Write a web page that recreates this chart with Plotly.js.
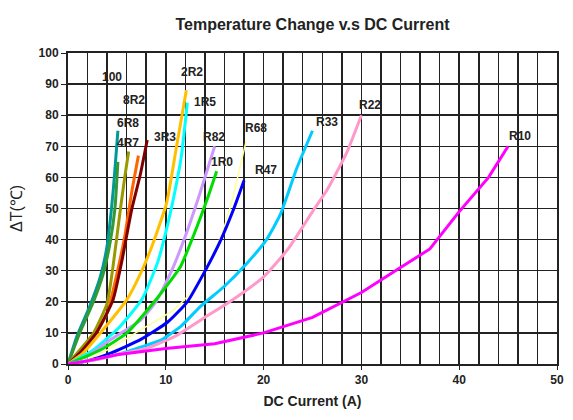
<!DOCTYPE html>
<html><head><meta charset="utf-8">
<script src="https://cdn.plot.ly/plotly-3.0.1.min.js"></script>
<style>html,body{margin:0;padding:0;background:#fff}#chart{width:573px;height:420px}</style>
</head><body><div id="chart"></div>
<script>
const names = ["100","8R2","6R8","4R7","3R3","2R2","1R5","R82","1R0","R68","R47","R33","R22","R10"];
const colors = ["#009999","#339933","#999900","#ff6600","#800000","#ffc000","#00ffff","#cc99ff","#00dd00","#ffff99","#0000ff","#00ccff","#ff99cc","#ff00ff"];

const x100 = [0,0.9,2.2,3.3,4,4.6,5.1];
const y100 = [0,8.8,18.4,28,38,55,75];
const x8R2 = [0,1.2,2.6,3.6,4.3,4.8,5.1];
const y8R2 = [0,10,20,29,39,50,65];
const x6R8 = [0,0.9,2.6,4,4.6,5.3,5.8,6.2];
const y6R8 = [0,3.4,9.9,19.5,31.3,48.4,60,68.3];
const x4R7 = [0,2.2,4,5,5.8,6.5,7.2];
const y4R7 = [0,6.6,16.3,29,41,55,67];
const x3R3 = [0,1.2,2.9,4.6,5.5,6.5,7.4,8.1];
const y3R3 = [0,3.5,10,20.6,33,49.5,61,72];
const x2R2 = [0,1.5,3.3,6,7.4,8.6,10.1,11.1,12.1];
const y2R2 = [0,3.4,9.9,20.6,29,38,52,70,88];
const x1R5 = [0,2.6,5.3,7.6,9.2,10.2,10.9,11.6,12.2];
const y1R5 = [0,4.5,12,21,33,45,55,67,84];
const xR82 = [0,2,4.3,7.4,9,10.6,12.1,13.5,15];
const yR82 = [0,2.5,7.7,14,20,30,42,55,70];
const x1R0 = [0,3.3,6,8.4,10.3,11.5,12.8,14.2,15.2];
const y1R0 = [0,4.5,9.9,18.4,26,31.3,41,52.7,62];
const xR68 = [0,2,4,7.4,10.8,12.5,13.8,15.5,16.6,18.2];
const yR68 = [0,1.5,4.5,10.9,17.4,22.7,29,40,50.6,71.5];
const xR47 = [0,2,4.3,7.5,10.2,12.2,14.2,15.5,16.9,18];
const yR47 = [0,1,3.4,8,13.5,20,31,39,49.5,59];
const xR33 = [0,3,5,7.5,9.5,11.5,13.5,16,18.3,20.3,21.7,23.4,25];
const yR33 = [0,1.5,3,5.5,7.7,12,18.4,25,32.4,40,48,63,75];
const xR22 = [0,3,5,8,11,14,17,20,22.5,25,26.5,28.5,30];
const yR22 = [0,1.5,3,5,9,15,21,28,37,49,56,68,80];
const xR10 = [0,2,5,10,15,20,25,30,34,37,40,43,45];
const yR10 = [0,1,3,5,6.5,10,15,23,31,37,49,60,70];

const xs = [x100,x8R2,x6R8,x4R7,x3R3,x2R2,x1R5,xR82,x1R0,xR68,xR47,xR33,xR22,xR10];
const ys = [y100,y8R2,y6R8,y4R7,y3R3,y2R2,y1R5,yR82,y1R0,yR68,yR47,yR33,yR22,yR10];

// label anchor positions (data units)
const labelX = [4.5,6.75,6.1,6.1,9.9,12.7,14.0,14.9,15.7,19.2,20.2,26.5,30.9,46.2];
const labelY = [92.3,85,77.5,71,73,94,84.2,73,65,75.9,62.4,77.8,83.3,73.3];

const traces = names.map((n,i)=>({
  x: xs[i], y: ys[i], name: n, mode: 'lines', type: 'scatter',
  line: {color: colors[i], width: n==="R68" ? 1.5 : 3, shape: n==="R10" ? 'linear' : 'spline', smoothing: 0.5},
  hoverinfo: 'skip'
}));

const FONT = 'Liberation Sans, Arial, sans-serif';
const annotations = names.map((n,i)=>({
  x: labelX[i], y: labelY[i], xref: 'x', yref: 'y', text: '<b>' + n + '</b>', showarrow: false,
  font: {family: FONT, size: 12, color: '#222'}, xanchor: 'center', yanchor: 'middle'
}));

const layout = {
  width: 573, height: 420,
  margin: {l: 68, r: 16, t: 53, b: 56},
  paper_bgcolor: '#fff', plot_bgcolor: '#fff',
  showlegend: false,
  title: {text: '<b>Temperature Change v.s DC Current</b>', x: 0.5, xref: 'paper', xanchor: 'center', y: 0.955, yref: 'container',
          font: {family: FONT, size: 16, color: '#222'}},
  xaxis: {
    range: [0, 50], dtick: 10, tick0: 0, showgrid: true, gridcolor: '#222', gridwidth: 1.5,
    minor: {dtick: 2, showgrid: true, gridcolor: '#222', gridwidth: 1.5},
    showline: true, linecolor: '#222', linewidth: 2, mirror: true,
    ticks: 'outside', ticklen: 4, tickcolor: '#222', zeroline: false,
    tickfont: {family: FONT, size: 12, color: '#222', weight: 'bold'},
    title: {text: '<b>DC Current (A)</b>', standoff: 10, font: {family: FONT, size: 14, color: '#222'}}
  },
  yaxis: {
    range: [0, 100], dtick: 10, showgrid: true, gridcolor: '#222', gridwidth: 1.5,
    showline: true, linecolor: '#222', linewidth: 2, mirror: true,
    ticks: 'outside', ticklen: 5, tickcolor: '#222', zeroline: false,
    tickfont: {family: FONT, size: 12, color: '#222', weight: 'bold'},
    title: {text: 'ΔT(℃)', standoff: 12, font: {family: FONT, size: 16, color: '#222'}}
  },
  annotations: annotations
};

Plotly.newPlot('chart', traces, layout, {displayModeBar: false, staticPlot: true});
</script>
</body></html>
